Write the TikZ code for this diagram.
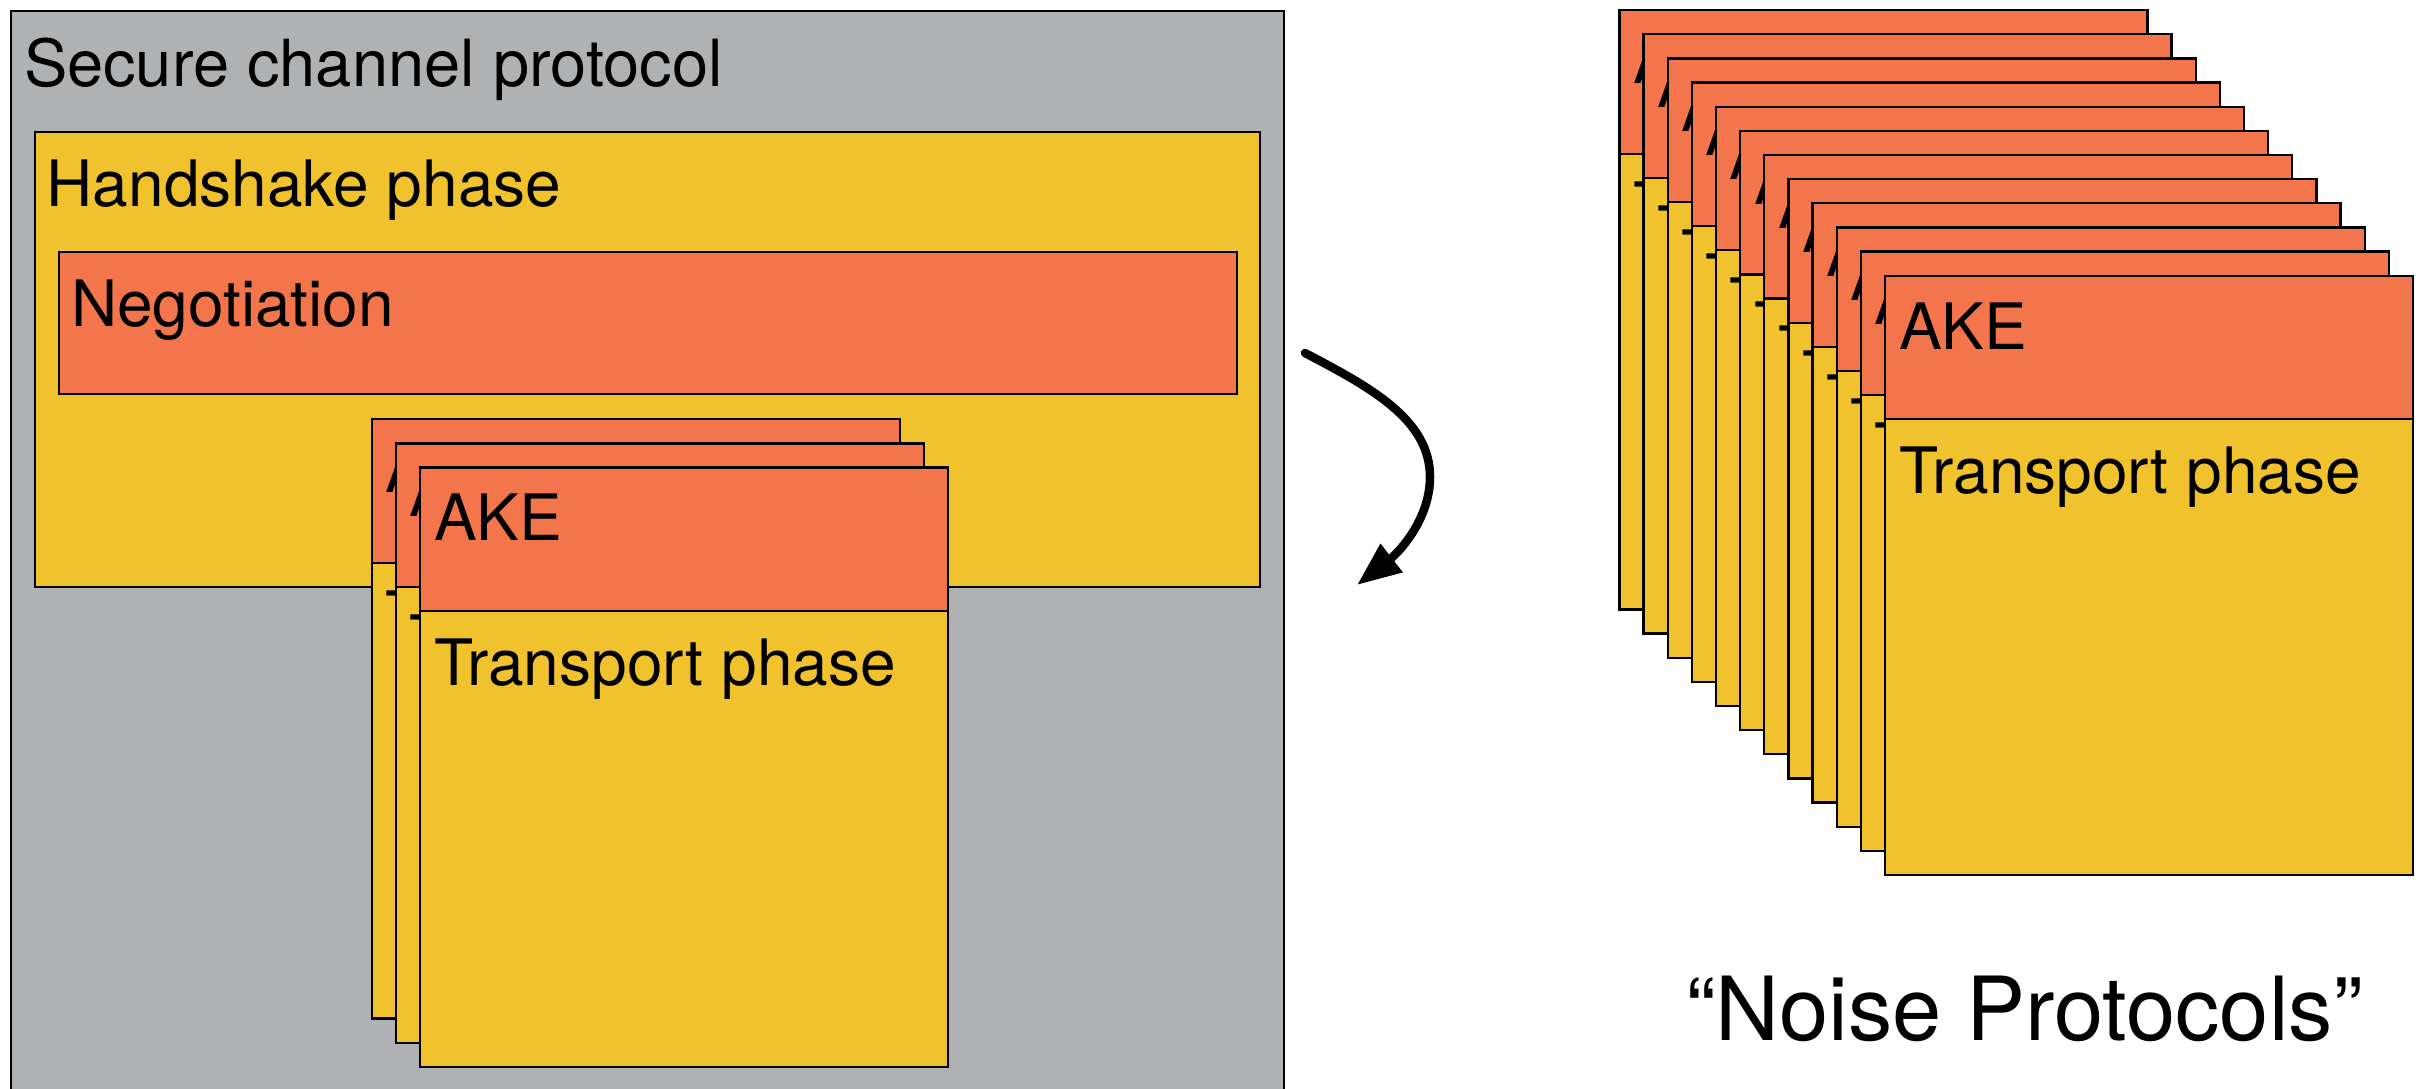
\documentclass[tikz,border=0pt]{standalone}
\usepackage{fontspec}
\setmainfont{TeX Gyre Heros}
\usetikzlibrary{arrows.meta}
\definecolor{grayfill}{RGB}{176,177,179}
\definecolor{yelfill}{RGB}{240,194,46}
\definecolor{orafill}{RGB}{243,117,76}
\tikzset{
  bd/.style={draw=black,line width=2.3pt},
  txt/.style={anchor=base west,inner sep=0pt,outer sep=0pt,font=\fontsize{64}{77}\selectfont,text=black},
  bigtxt/.style={anchor=base west,inner sep=0pt,outer sep=0pt,font=\fontsize{88.5}{100}\selectfont,text=black},
  arrowline/.style={line width=8.5pt,line cap=round,-{Triangle[length=44pt,width=34pt]}}
}
\newcommand\akecard[3]{%
  \begin{scope}[shift={(#1,#2)}]
    \fill[yelfill] (0,0) rectangle (528,599.3);
    \fill[orafill] (0,0) rectangle (528,143.6);
    \draw[bd] (0,143.6) -- (528,143.6);
    \draw[bd] (0,0) rectangle (528,599.3);
    \node[txt] (ake#3) at (14,73.3) {AKE};
    \node[txt] (tp#3) at (14,218) {Transport phase};
  \end{scope}}
\begin{document}
\begin{tikzpicture}[x=1pt,y=-1pt]
\useasboundingbox (0,0) rectangle (2424,1088);
\clip (0,0) rectangle (2424,1088);
\fill[white] (0,0) rectangle (2424,1088);
% outer secure channel box
\fill[grayfill] (11,11) rectangle (1284,1120);
\draw[bd] (11,11) rectangle (1284,1120);
\node[txt,font=\fontsize{65}{78}\selectfont] (secure) at (24,86.7) {Secure channel protocol};
% handshake phase
\fill[yelfill] (35,131.7) rectangle (1260,587.3);
\draw[bd] (35,131.7) rectangle (1260,587.3);
\node[txt] (handshake) at (46.7,206) {Handshake phase};
% negotiation
\fill[orafill] (59.3,251.7) rectangle (1236.7,394.2);
\draw[bd] (59.3,251.7) rectangle (1236.7,394.2);
\node[txt] (negotiation) at (71,326) {Negotiation};
% left stack of cards
\foreach \i in {0,1,2}{
  \akecard{371.7+\i*24.15}{419.3+\i*24.15}{l\i}
}
% right stack of cards
\foreach \i in {0,...,11}{
  \akecard{1619.35+\i*24.15}{10.05+\i*24.15}{r\i}
}
\node[bigtxt] (noise) at (1686,1040) {“Noise Protocols”};
% curved arrow
\coordinate (arrowstart) at (1305,353);
\coordinate (arrowmid) at (1430,477);
\coordinate (arrowtip) at (1357,585);
\draw[arrowline] (arrowstart) .. controls (1372,388) and (1430,420) .. (arrowmid)
  .. controls (1430,520) and (1398,553) .. (arrowtip);
\end{tikzpicture}
\end{document}
